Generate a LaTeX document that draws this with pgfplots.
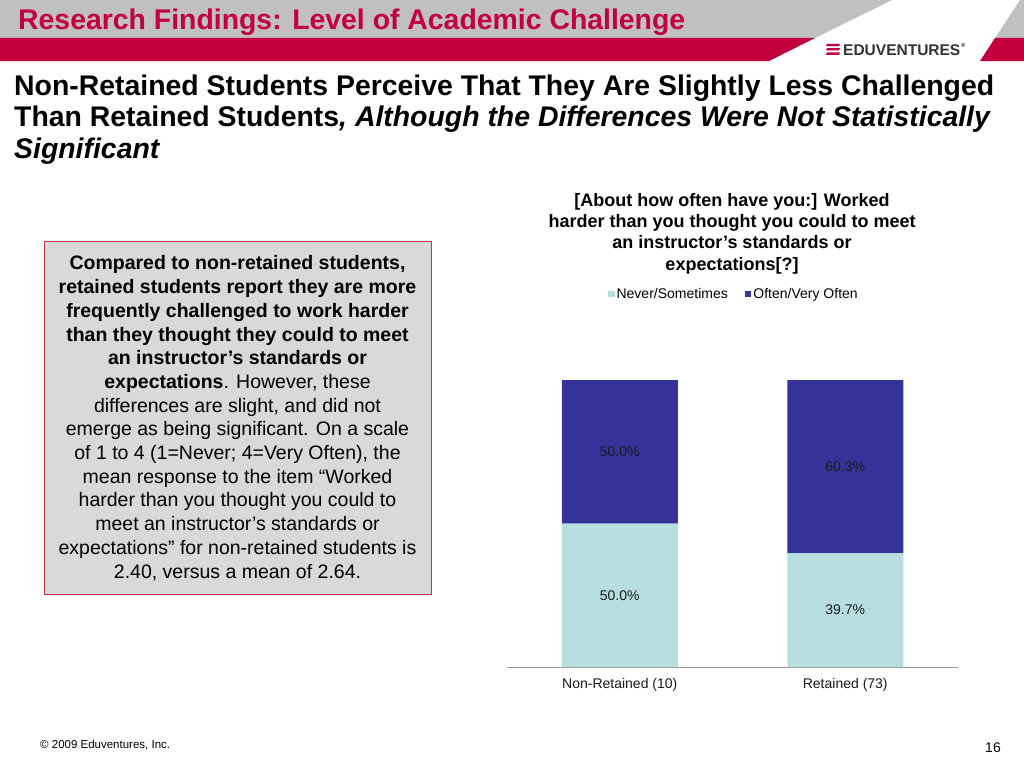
\documentclass[border=0pt]{standalone}
\usepackage{fontspec}
\setmainfont{Liberation Sans}
\usepackage{pgfplots}
\pgfplotsset{compat=1.18}

\definecolor{hdrgray}{HTML}{C0C0C0}
\definecolor{hdrred}{HTML}{C3003E}
\definecolor{boxfill}{HTML}{D9D9D9}
\definecolor{boxline}{HTML}{B83A4B}
\definecolor{lightbar}{HTML}{B7DEE0}
\definecolor{darkbar}{HTML}{333399}
\definecolor{labelc}{HTML}{1A1A1A}
\definecolor{logogray}{HTML}{333333}

\pgfplotsset{
  sq legend/.style={legend image code/.code={\fill[##1] (0pt,-3.3pt) rectangle (6.6pt,3.3pt);}},
}

\begin{document}
\begin{tikzpicture}
% slide decoration, in pixel units (y goes down as negative)
% multi-line nodes: anchor=base is the baseline of the last line
\begin{scope}[x=1pt,y=1pt]
  \path[use as bounding box] (0,0) rectangle (1024,-768);
  \fill[white] (0,0) rectangle (1024,-768);
  % header bands
  \fill[hdrgray] (0,0) -- (892,0) -- (815,-38) -- (0,-38) -- cycle;
  \fill[hdrred] (0,-38) -- (815,-38) -- (769,-61) -- (0,-61) -- cycle;
  \fill[hdrgray] (1020,0) -- (1024,0) -- (1024,-38) -- (995,-38) -- cycle;
  \fill[hdrred] (995,-38) -- (1024,-38) -- (1024,-61) -- (980,-61) -- cycle;
  \node[anchor=base west, inner sep=0, text=hdrred, font=\fontsize{28.4}{33}\selectfont\bfseries]
    at (18,-30) {Research Findings: Level of Academic Challenge};
  % logo
  \foreach \yy in {45,49.3,53.6}
    \fill[hdrred] (827,-\yy+1.2) -- (840,-\yy+1.2) -- (839,-\yy-1.2) -- (826,-\yy-1.2) -- cycle;
  \node[anchor=base west, inner sep=0, text=logogray, font=\fontsize{15.5}{17}\selectfont\bfseries]
    at (843,-55.5) {EDUVENTURES};
  \node[anchor=base west, inner sep=0, text=logogray, font=\fontsize{6}{7}\selectfont\bfseries]
    at (961,-47.5) {®};
  % subtitle
  \node[anchor=base west, inner sep=0, align=left, font=\fontsize{28.4}{31.5}\selectfont\bfseries]
    at (14,-158) {Non-Retained Students Perceive That They Are Slightly Less Challenged\\
    Than Retained Students\textit{, Although the Differences Were Not Statistically}\\
    \textit{Significant}};
  % text box
  \draw[boxline, fill=boxfill, line width=1pt] (44,-241) rectangle (431,-594);
  \node[anchor=base, inner sep=0, align=center, font=\fontsize{19.5}{23.7}\selectfont]
    at (237.5,-578) {\textbf{Compared to non-retained students,}\\
    \textbf{retained students report they are more}\\
    \textbf{frequently challenged to work harder}\\
    \textbf{than they thought they could to meet}\\
    \textbf{an instructor’s standards or}\\
    \textbf{expectations}. However, these\\
    differences are slight, and did not\\
    emerge as being significant. On a scale\\
    of 1 to 4 (1=Never; 4=Very Often), the\\
    mean response to the item “Worked\\
    harder than you thought you could to\\
    meet an instructor’s standards or\\
    expectations” for non-retained students is\\
    2.40, versus a mean of 2.64.};
  % chart title
  \node[anchor=base, inner sep=0, align=center, font=\fontsize{18}{21.3}\selectfont\bfseries]
    at (732,-270) {[About how often have you:] Worked\\
    harder than you thought you could to meet\\
    an instructor{\char"0027}s standards or\\
    expectations[?]};
  % footer
  \node[anchor=base west, inner sep=0, font=\fontsize{11.5}{13}\selectfont]
    at (40,-748) {© 2009 Eduventures, Inc.};
  \node[anchor=base east, inner sep=0, font=\fontsize{14}{16}\selectfont]
    at (1001,-752) {16};
\end{scope}

\begin{axis}[
  at={(507pt,-667pt)}, anchor=south west,
  width=451pt, height=287pt, scale only axis,
  ybar stacked, bar width=116pt,
  xmin=-0.5, xmax=1.5, ymin=0, ymax=100,
  axis x line=bottom, axis y line=none,
  x axis line style={-, draw=gray!80, line width=0.8pt},
  xtick={0,1}, xticklabels={Non-Retained (10),Retained (73)},
  major tick length=0pt,
  xticklabel style={font=\fontsize{14}{16}\selectfont, text=labelc, yshift=-8pt},
  legend columns=2,
  legend cell align=left,
  legend style={at={(0.503,1.30)}, anchor=center, draw=none, fill=none,
    font=\fontsize{14}{16}\selectfont,
    /tikz/every even column/.append style={column sep=15pt}},
]
\addplot[fill=lightbar, draw=none, sq legend] coordinates {(0,50.0) (1,39.7)};
\addlegendentry{Never/Sometimes}
\addplot[fill=darkbar, draw=none, sq legend] coordinates {(0,50.0) (1,60.3)};
\addlegendentry{Often/Very Often}
\end{axis}

% value labels, centred in each segment
\begin{axis}[
  at={(507pt,-667pt)}, anchor=south west,
  width=451pt, height=287pt, scale only axis,
  xmin=-0.5, xmax=1.5, ymin=0, ymax=100,
  hide axis,
]
\addplot[draw=none, mark=none, nodes near coords, point meta=explicit symbolic,
  every node near coord/.append style={anchor=center, text=labelc, font=\fontsize{14}{16}\selectfont}]
  coordinates {(0,25) [50.0\%] (0,75) [50.0\%] (1,19.85) [39.7\%] (1,69.85) [60.3\%]};
\end{axis}
\end{tikzpicture}
\end{document}
